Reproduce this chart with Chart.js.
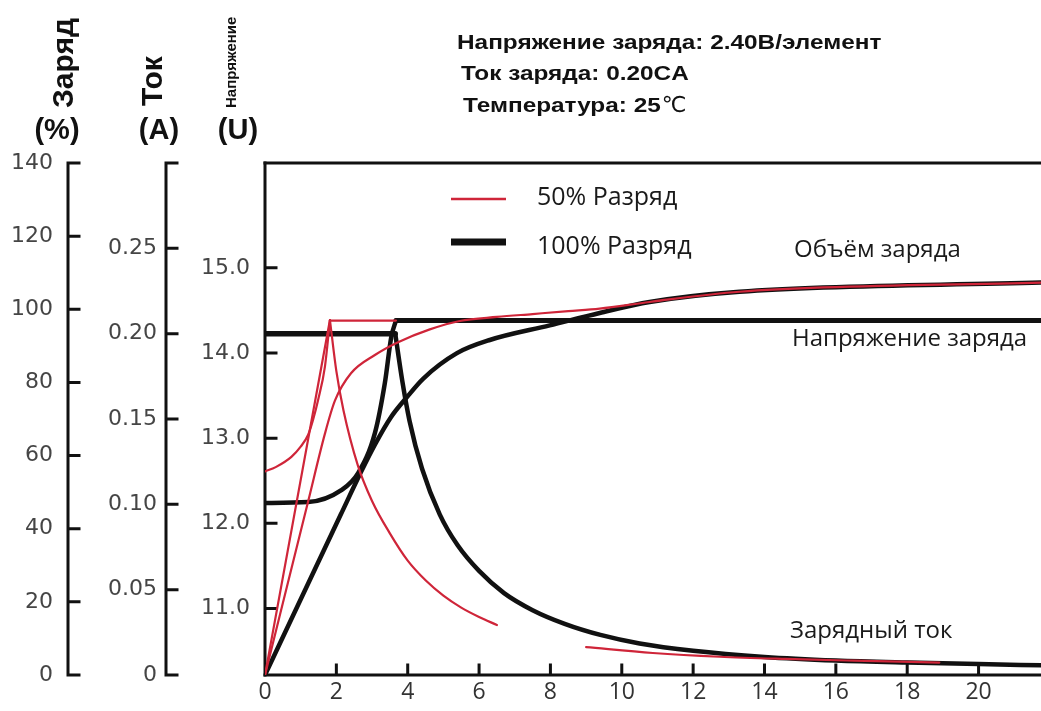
<!DOCTYPE html>
<html>
<head>
<meta charset="utf-8">
<script src="https://cdn.jsdelivr.net/npm/chart.js@4.4.1/dist/chart.umd.min.js"></script>
<style>
  html, body { margin: 0; background: #fff; }
  canvas { display: block; }
</style>
</head>
<body>
<canvas id="chargeChart" width="1041" height="711"></canvas>
<script>
// Деления осей
const timeTicks = [0, 2, 4, 6, 8, 10, 12, 14, 16, 18, 20]
const chargeTicks = [0, 20, 40, 60, 80, 100, 120, 140]
const currentTicks = [0, 0.05, 0.1, 0.15, 0.2, 0.25, 0.3]
const voltTicks = [11, 12, 13, 14, 15]

// 50% разряд (красные линии)
const u50Time = [0, 0.3, 0.74, 1.0, 1.21, 1.35, 1.49, 1.68, 1.82]
const u50 = [12.61, 12.66, 12.78, 12.9, 13.04, 13.22, 13.45, 13.84, 14.38]
const u50FlatTime = [1.82, 3.67]
const u50Flat = [14.38, 14.38]
const i50RiseTime = [0, 1.82]
const i50Rise = [0, 0.208]
const i50Time = [1.82, 2.0, 2.2, 2.6, 3.0, 3.5, 4.0, 4.5, 5.0, 5.5, 6.0, 6.5]
const i50 = [0.208, 0.178, 0.155, 0.123, 0.102, 0.083, 0.067, 0.0555, 0.0465, 0.0395, 0.034, 0.0293]
const i50TailTime = [9.0, 10.87, 12.74, 14.6, 16.5, 18.9]
const i50Tail = [0.0163, 0.0129, 0.0107, 0.0094, 0.0084, 0.0073]
const q50Time = [0, 1.21, 1.68, 1.96, 2.41, 3.08, 3.73, 4.62, 5.46, 6.5, 7.5, 8.5, 9.38, 10.78, 13.3, 21.75]
const q50 = [0, 47.5, 66, 75, 82.5, 87.5, 91, 94.5, 96.8, 97.9, 98.7, 99.5, 100.2, 102, 104.8, 107.3]

// 100% разряд (чёрные линии)
const u100Time = [0, 1.21, 2.14, 2.61, 3.08, 3.36, 3.54, 3.67]
const u100 = [12.24, 12.25, 12.39, 12.59, 13.06, 13.65, 14.19, 14.38]
const u100FlatTime = [3.67, 21.75]
const u100Flat = [14.38, 14.38]
const i100FlatTime = [0, 3.65]
const i100Flat = [0.2, 0.2]
const i100Time = [3.65, 3.85, 4.05, 4.4, 4.9, 5.4, 6.0, 6.7, 7.5, 8.4, 9.4, 10.5, 12.0, 14.0, 16.0, 18.0, 20.0, 21.75]
const i100 = [0.2, 0.172, 0.149, 0.121, 0.094, 0.076, 0.061, 0.048, 0.038, 0.03, 0.0235, 0.0185, 0.0142, 0.0106, 0.0085, 0.0073, 0.0064, 0.0057]
const q100Time = [0, 1.21, 2.13, 2.69, 3.08, 3.53, 3.98, 4.43, 5.38, 6.3, 7.98, 9.38, 10.78, 13.3, 21.75]
const q100 = [0, 25, 44, 55.5, 63, 70.5, 76, 81, 88, 91.6, 95.6, 99, 102, 104.8, 107.3]

const legendLabels = ["50% Разряд", "100% Разряд"]
const conditions = ["Напряжение заряда: 2.40В/элемент", "Ток заряда: 0.20CA", "Температура: 25"]
const curveNames = ["Объём заряда", "Напряжение заряда", "Зарядный ток"]

const RED = "#cf2539"
const BLACK = "#111111"

function series(xs, ys, axis, color, width, smooth) {
  return {
    data: xs.map((x, i) => ({ x, y: ys[i] })),
    yAxisID: axis,
    borderColor: color,
    borderWidth: width,
    pointRadius: 0,
    fill: false,
    tension: 0,
    cubicInterpolationMode: smooth ? "monotone" : "default",
    borderCapStyle: "round",
    borderJoinStyle: "round",
  }
}

// красные сверху
const datasets = [
  series(u50Time, u50, "yU", RED, 2.2, true),
  series(u50FlatTime, u50Flat, "yU", RED, 2.2, false),
  series(i50RiseTime, i50Rise, "yA", RED, 2.2, false),
  series(i50Time, i50, "yA", RED, 2.2, true),
  series(i50TailTime, i50Tail, "yA", RED, 2.2, true),
  series(q50Time, q50, "yP", RED, 2.2, true),
  series(u100Time, u100, "yU", BLACK, 4.5, true),
  series(u100FlatTime, u100Flat, "yU", BLACK, 5, false),
  series(i100FlatTime, i100Flat, "yA", BLACK, 5.5, false),
  series(i100Time, i100, "yA", BLACK, 4.5, true),
  series(q100Time, q100, "yP", BLACK, 4.5, true),
]

// Оси рисуем сами: деления внутрь
const axesPlugin = {
  id: "axes",
  beforeDatasetsDraw(chart) {
    const { ctx, chartArea: a, scales } = chart
    ctx.save()
    ctx.strokeStyle = BLACK
    ctx.lineWidth = 3
    ctx.lineCap = "square"
    for (const id of ["yP", "yA", "yU"]) {
      const s = scales[id]
      const x = s.right
      ctx.beginPath()
      ctx.moveTo(x, s.top)
      ctx.lineTo(x, s.bottom)
      s.ticks.forEach(t => {
        const y = s.getPixelForValue(t.value)
        ctx.moveTo(x, y)
        ctx.lineTo(x + 11, y)
      })
      ctx.stroke()
    }
    const xs = scales.x
    ctx.beginPath()
    ctx.moveTo(a.left, a.bottom)
    ctx.lineTo(a.right + 2, a.bottom)
    xs.ticks.forEach(t => {
      if (t.value === 0) return
      const x = xs.getPixelForValue(t.value)
      ctx.moveTo(x, a.bottom)
      ctx.lineTo(x, a.bottom - 10)
    })
    ctx.moveTo(a.left, a.top)
    ctx.lineTo(a.right + 2, a.top)
    ctx.stroke()
    ctx.restore()
  },
}

const notesPlugin = {
  id: "notes",
  afterDraw(chart) {
    const { ctx, scales } = chart
    ctx.save()
    ctx.fillStyle = BLACK

    // подписи осей
    const vert = (text, font, x, y) => {
      ctx.save()
      ctx.font = font
      ctx.translate(x, y)
      ctx.rotate(-Math.PI / 2)
      ctx.textAlign = "left"
      ctx.textBaseline = "alphabetic"
      ctx.fillText(text, 0, 0)
      ctx.restore()
    }
    const bold30 = "bold 30px 'Liberation Sans', Arial, sans-serif"
    vert("Заряд", bold30, scales.yP.right + 5, 108)
    vert("Ток", bold30, scales.yA.right - 4, 106)
    vert("Напряжение", "bold 15px 'Liberation Sans', Arial, sans-serif", scales.yU.right - 29, 108)
    ctx.font = "bold 29px 'Liberation Sans', Arial, sans-serif"
    ctx.textAlign = "center"
    ctx.textBaseline = "alphabetic"
    ctx.fillText("(%)", scales.yP.right - 11, 139)
    ctx.fillText("(A)", scales.yA.right - 7, 139)
    ctx.fillText("(U)", scales.yU.right - 27, 139)

    // условия заряда (шрифт слегка растянут по ширине, как в оригинале)
    ctx.textAlign = "left"
    const sx = 1.16
    const wide = (text, x, y) => {
      ctx.save()
      ctx.translate(x, y)
      ctx.scale(sx, 1)
      ctx.fillText(text, 0, 0)
      ctx.restore()
      return ctx.measureText(text).width * sx
    }
    ctx.font = "bold 21px 'Liberation Sans', Arial, sans-serif"
    wide(conditions[0], 457, 49)
    wide(conditions[1], 461, 80)
    const w = wide(conditions[2], 463, 112)
    ctx.font = "22px 'DejaVu Sans', sans-serif"
    ctx.fillText("℃", 463 + w + 1, 112)

    // легенда
    ctx.lineCap = "butt"
    ctx.strokeStyle = RED
    ctx.lineWidth = 2.5
    ctx.beginPath(); ctx.moveTo(451, 199); ctx.lineTo(506, 199); ctx.stroke()
    ctx.strokeStyle = BLACK
    ctx.lineWidth = 7
    ctx.beginPath(); ctx.moveTo(451, 242); ctx.lineTo(506, 242); ctx.stroke()
    ctx.fillStyle = "#1a1a1a"
    ctx.font = "25px 'Open Sans', sans-serif"
    ctx.fillText(legendLabels[0], 537, 205)
    ctx.fillText(legendLabels[1], 537, 254)

    // названия кривых
    ctx.font = "24px 'Open Sans', sans-serif"
    ctx.fillText(curveNames[0], 794, 257)
    ctx.fillText(curveNames[1], 792, 346)
    ctx.fillText(curveNames[2], 790, 638)
    ctx.restore()
  },
}

const yTickFont = { family: "'DejaVu Sans', sans-serif", size: 22 }
const hidden = { grid: { display: false, drawTicks: false }, border: { display: false } }

new Chart(document.getElementById("chargeChart"), {
  type: "line",
  data: { datasets },
  options: {
    responsive: false,
    animation: false,
    layout: { padding: { top: 163, right: 0, bottom: 0, left: 0 } },
    plugins: { legend: { display: false }, tooltip: { enabled: false } },
    scales: {
      x: {
        type: "linear",
        position: "bottom",
        min: 0,
        max: 21.75,
        ...hidden,
        afterBuildTicks: s => { s.ticks = timeTicks.map(value => ({ value })) },
        afterFit: s => { s.height = 36 },
        ticks: {
          color: "#333",
          font: { family: "'Open Sans', sans-serif", size: 23 },
          padding: 4,
          maxRotation: 0,
          autoSkip: false,
          callback: v => String(v),
        },
      },
      yP: {
        type: "linear",
        position: "left",
        weight: 3,
        min: 0,
        max: 140,
        ...hidden,
        afterBuildTicks: s => { s.ticks = chargeTicks.map(value => ({ value })) },
        afterFit: s => { s.width = 68 },
        ticks: { color: "#454545", font: yTickFont, padding: 15, autoSkip: false, callback: v => String(v) },
      },
      yA: {
        type: "linear",
        position: "left",
        weight: 2,
        min: 0,
        max: 0.3,
        ...hidden,
        afterBuildTicks: s => { s.ticks = currentTicks.map(value => ({ value })) },
        afterFit: s => { s.width = 98 },
        ticks: {
          color: "#454545",
          font: yTickFont,
          padding: 9,
          autoSkip: false,
          callback: v => (v === 0 ? "0" : v > 0.29 ? "" : v.toFixed(2)),
        },
      },
      yU: {
        type: "linear",
        position: "left",
        weight: 1,
        min: 10.22,
        max: 16.23,
        ...hidden,
        afterBuildTicks: s => { s.ticks = voltTicks.map(value => ({ value })) },
        afterFit: s => { s.width = 99 },
        ticks: { color: "#454545", font: yTickFont, padding: 15, autoSkip: false, callback: v => v.toFixed(1) },
      },
    },
  },
  plugins: [axesPlugin, notesPlugin],
})
</script>
</body>
</html>
